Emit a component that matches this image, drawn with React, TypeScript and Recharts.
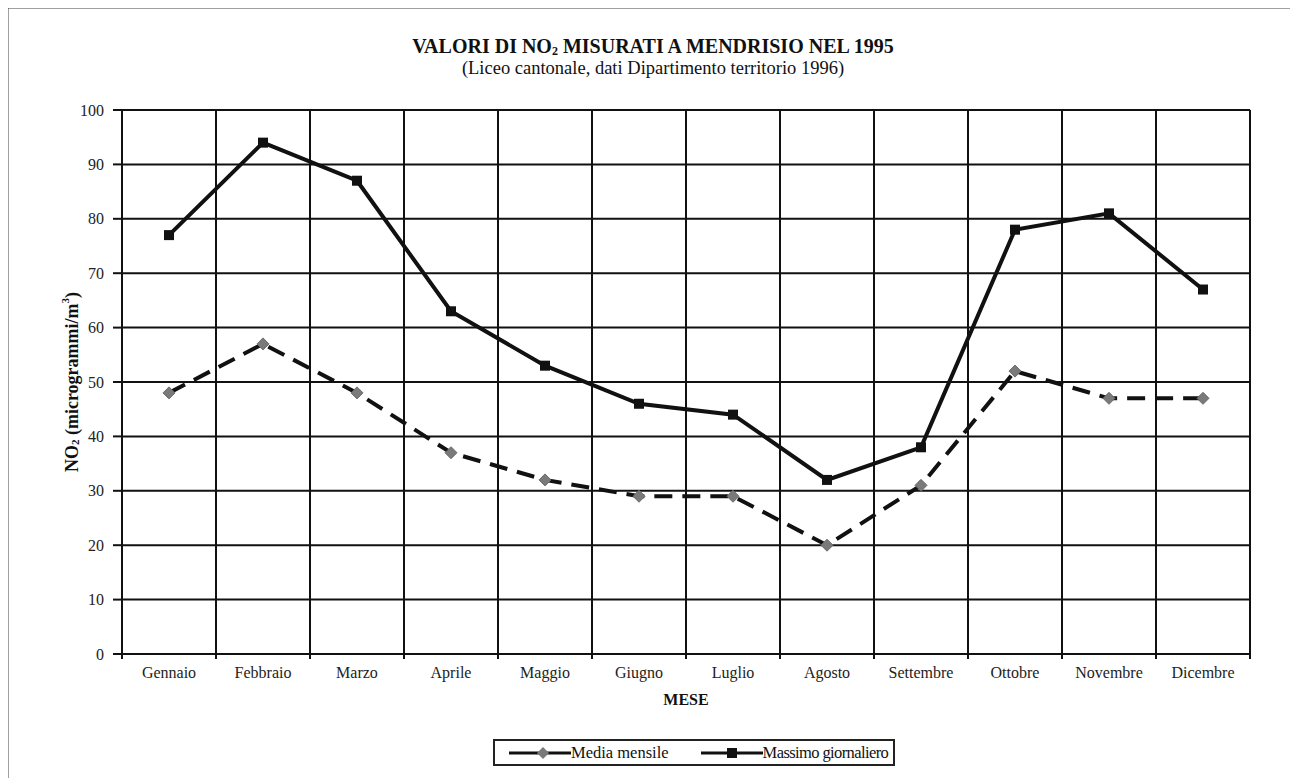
import React from "react";
import {
  LineChart,
  Line,
  XAxis,
  YAxis,
  CartesianGrid,
  Legend,
} from "recharts";

const months = [
  "Gennaio",
  "Febbraio",
  "Marzo",
  "Aprile",
  "Maggio",
  "Giugno",
  "Luglio",
  "Agosto",
  "Settembre",
  "Ottobre",
  "Novembre",
  "Dicembre",
];
const mediaMensile = [48, 57, 48, 37, 32, 29, 29, 20, 31, 52, 47, 47];
const massimoGiornaliero = [77, 94, 87, 63, 53, 46, 44, 32, 38, 78, 81, 67];
const yTicks = [0, 10, 20, 30, 40, 50, 60, 70, 80, 90, 100];
// month boundaries (grid + small tick marks) and month centres (labels)
const edgeTicks = [0, 1, 2, 3, 4, 5, 6, 7, 8, 9, 10, 11, 12];
const xTicks = [
  0, 0.5, 1, 1.5, 2, 2.5, 3, 3.5, 4, 4.5, 5, 5.5, 6, 6.5, 7, 7.5, 8, 8.5, 9,
  9.5, 10, 10.5, 11, 11.5, 12,
];

const data = months.map((m, i) => ({
  mese: m,
  idx: i + 0.5,
  media: mediaMensile[i],
  massimo: massimoGiornaliero[i],
}));

const FONT = '"Liberation Serif", "DejaVu Serif", serif';

const Diamond = (props: any) => {
  const { cx, cy, index } = props;
  if (cx == null || cy == null) return null;
  const r = 6;
  return (
    <polygon
      key={`d-${index}`}
      points={`${cx},${cy - r} ${cx + r},${cy} ${cx},${cy + r} ${cx - r},${cy}`}
      fill="#7a7a7a"
      stroke="#6a6a6a"
      strokeWidth={1}
    />
  );
};

const Square = (props: any) => {
  const { cx, cy, index } = props;
  if (cx == null || cy == null) return null;
  return (
    <rect key={`s-${index}`} x={cx - 5} y={cy - 5} width={10} height={10} fill="#111" />
  );
};

const MonthTick = (props: any) => {
  const { x, y, payload } = props;
  const v = payload.value;
  if (Number.isInteger(v)) {
    return <line x1={x} y1={y} x2={x} y2={y + 5} stroke="#111" strokeWidth={2} />;
  }
  return (
    <text
      x={x}
      y={y + 24}
      textAnchor="middle"
      fontFamily={FONT}
      fontSize={16}
      fill="#222"
    >
      {months[Math.floor(v)]}
    </text>
  );
};

const YLabel = (props: any) => {
  const vb = props.viewBox || {};
  const x = vb.x + 10;
  const y = vb.y + vb.height / 2;
  return (
    <text
      x={x}
      y={y}
      transform={`rotate(-90, ${x}, ${y})`}
      textAnchor="middle"
      dominantBaseline="central"
      fontFamily={FONT}
      fontWeight="bold"
      fontSize={18}
      fill="#111"
    >
      NO
      <tspan fontSize={11} dy={3}>2</tspan>
      <tspan dy={-3}> (microgrammi/m</tspan>
      <tspan fontSize={11} dy={-7}>3</tspan>
      <tspan dy={7}>)</tspan>
    </text>
  );
};

const LegendBox = () => (
  <div
    style={{
      border: "2px solid #222",
      display: "flex",
      alignItems: "center",
      height: 23,
      padding: "0 5px 0 14px",
      fontFamily: FONT,
      fontSize: 16.5,
      color: "#111",
      background: "#fff",
      whiteSpace: "nowrap",
    }}
  >
    <svg width={62} height={14}>
      <line x1={0} y1={7} x2={62} y2={7} stroke="#111" strokeWidth={3} />
      <polygon points="34,1 40,7 34,13 28,7" fill="#7a7a7a" />
    </svg>
    <span style={{ marginRight: 32 }}>Media mensile</span>
    <svg width={62} height={14}>
      <line x1={0} y1={7} x2={62} y2={7} stroke="#111" strokeWidth={3} />
      <rect x={26} y={2} width={10} height={10} fill="#111" />
    </svg>
    <span style={{ letterSpacing: -0.6 }}>Massimo giornaliero</span>
  </div>
);

export default function App() {
  const W = 1290;
  const H = 770;
  return (
    <div style={{ position: "relative", width: W, height: H, fontFamily: FONT }}>
      {/* page frame (top and left edges of the scanned figure) */}
      <svg
        width={W + 8}
        height={H + 8}
        style={{ position: "absolute", left: -8, top: -8, pointerEvents: "none" }}
      >
        <path d={`M7,${H + 8} L7,7 L${W + 8},7`} fill="none" stroke="#444" strokeWidth={3} />
      </svg>
      <div
        style={{
          position: "absolute",
          left: 0,
          width: W,
          top: 26,
          textAlign: "center",
          fontWeight: "bold",
          fontSize: 20,
          lineHeight: "24px",
          color: "#111",
        }}
      >
        VALORI DI NO
        <span style={{ fontSize: 12, position: "relative", top: 2 }}>2</span> MISURATI A
        MENDRISIO NEL 1995
      </div>
      <div
        style={{
          position: "absolute",
          left: 0,
          width: W,
          top: 49,
          textAlign: "center",
          fontSize: 18.5,
          lineHeight: "22px",
          color: "#111",
        }}
      >
        (Liceo cantonale, dati Dipartimento territorio 1996)
      </div>
      <LineChart
        width={W}
        height={H}
        data={data}
        margin={{ top: 102, right: 48, left: 54, bottom: 68 }}
      >
        <CartesianGrid
          stroke="#111"
          strokeWidth={2}
          verticalCoordinatesGenerator={(p: any) => {
            const o = p.offset;
            return edgeTicks.map((t) => o.left + (t * o.width) / 12);
          }}
        />
        <XAxis
          type="number"
          dataKey="idx"
          domain={[0, 12]}
          ticks={xTicks}
          interval={0}
          tickLine={false}
          tickSize={0}
          tickMargin={0}
          axisLine={false}
          height={56}
          tick={MonthTick}
          label={{
            value: "MESE",
            position: "insideBottom",
            offset: 5,
            fontWeight: "bold",
            fontSize: 16,
            fill: "#111",
            fontFamily: FONT,
          }}
        />
        <YAxis
          domain={[0, 100]}
          ticks={yTicks}
          width={60}
          tickSize={9}
          tickMargin={9}
          axisLine={false}
          tickLine={{ stroke: "#111", strokeWidth: 2 }}
          tick={{ fontSize: 16, fill: "#222", fontFamily: FONT }}
          label={{ content: YLabel }}
        />
        <Legend
          layout="horizontal"
          verticalAlign="middle"
          align="center"
          wrapperStyle={{ left: 485, top: 731, width: "auto" }}
          content={() => <LegendBox />}
        />
        <Line
          type="linear"
          dataKey="media"
          name="Media mensile"
          stroke="#111"
          strokeWidth={4}
          strokeDasharray="18 10"
          dot={Diamond}
          isAnimationActive={false}
        />
        <Line
          type="linear"
          dataKey="massimo"
          name="Massimo giornaliero"
          stroke="#111"
          strokeWidth={4}
          dot={Square}
          isAnimationActive={false}
        />
      </LineChart>
    </div>
  );
}
